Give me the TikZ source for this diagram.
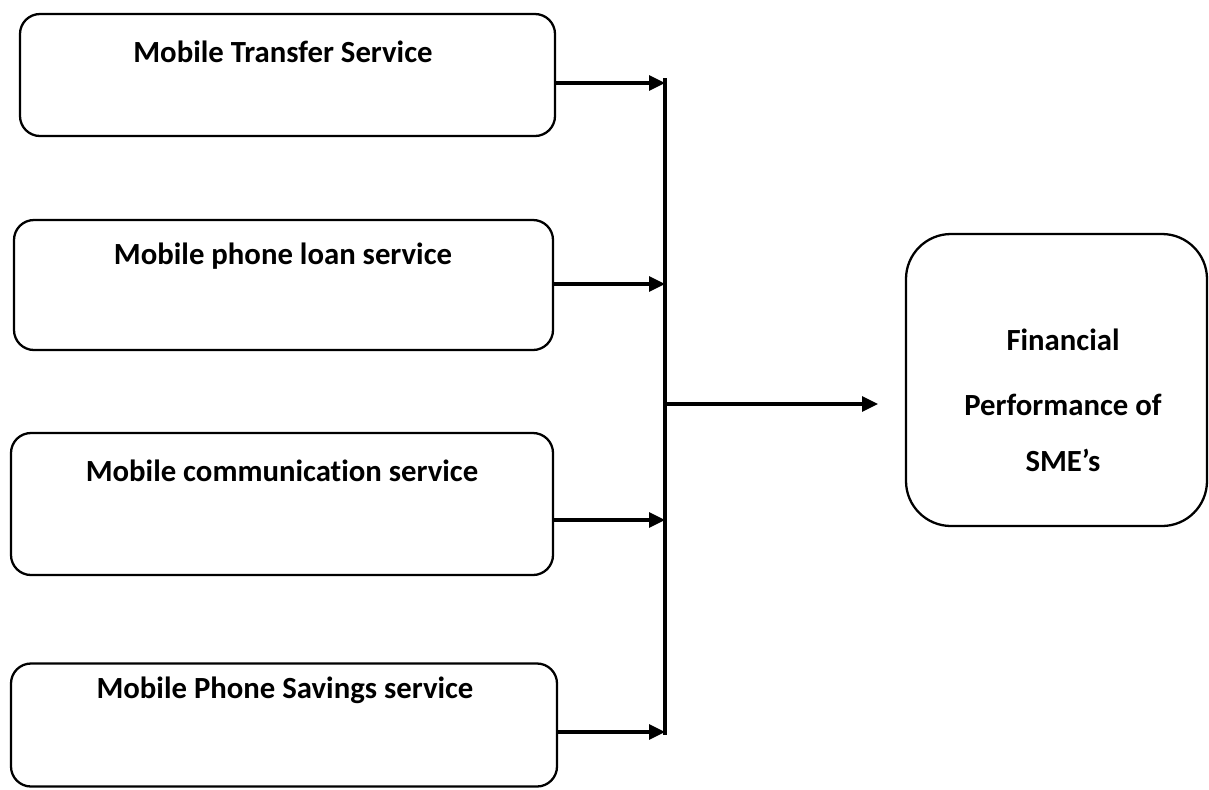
\documentclass[tikz,border=0pt]{standalone}
\usepackage{fontspec}
\setmainfont{Carlito}[Ligatures=NoCommon]
\usetikzlibrary{arrows.meta}

\begin{document}
\begin{tikzpicture}[
    svcbox/.style={draw=black, line width=1.3pt, rounded corners=0.4cm},
    perfbox/.style={draw=black, line width=1.3pt, rounded corners=0.9cm},
    svctext/.style={font=\fontsize{17.5}{21}\selectfont\bfseries},
    flow/.style={line width=1.8pt, -{Triangle[length=0.32cm, width=0.3cm]}}
  ]
    \tikzstyle{every node}+=[inner sep=0pt]
    \useasboundingbox (0,0) rectangle (24.18,-15.78);
    % service boxes on the left
    \node [svcbox, minimum width=10.7cm, minimum height=2.44cm] (transfer) at (5.75,-1.5) {};
    \node [svcbox, minimum width=10.78cm, minimum height=2.6cm] (loan) at (5.67,-5.7) {};
    \node [svcbox, minimum width=10.84cm, minimum height=2.84cm] (comm) at (5.64,-10.08) {};
    \node [svcbox, minimum width=10.92cm, minimum height=2.46cm] (savings) at (5.68,-14.5) {};
    \node [svctext] (transfertxt) at (5.66,-1.04) {Mobile Transfer Service};
    \node [svctext] (loantxt) at (5.66,-5.12) {Mobile phone loan service};
    \node [svctext] (commtxt) at (5.64,-9.42) {Mobile communication service};
    \node [svctext] (savingstxt) at (5.70,-13.8) {Mobile Phone Savings service};
    % outcome box on the right
    \node [perfbox, minimum width=6.02cm, minimum height=5.84cm] (perf) at (21.13,-7.6) {};
    \node [svctext] (perf1) at (21.26,-6.8) {Financial};
    \node [svctext] (perf2) at (21.26,-8.1) {Performance of};
    \node [svctext] (perf3) at (21.26,-9.2) {SME’s};
    % collecting line
    \coordinate (bustop) at (13.3,-1.56);
    \coordinate (busbot) at (13.3,-14.7);
    \coordinate (j1) at (13.3,-1.66);
    \coordinate (j2) at (13.3,-5.68);
    \coordinate (j3) at (13.3,-10.4);
    \coordinate (j4) at (13.3,-14.64);
    \coordinate (jout) at (13.3,-8.08);
    \coordinate (tip) at (17.56,-8.08);
    \draw [line width=1.8pt] (bustop) -- (busbot);
    \draw [flow] (transfer.east |- j1) -- (j1);
    \draw [flow] (loan.east |- j2) -- (j2);
    \draw [flow] (comm.east |- j3) -- (j3);
    \draw [flow] (savings.east |- j4) -- (j4);
    \draw [flow] (jout) -- (tip);
\end{tikzpicture}
\end{document}
